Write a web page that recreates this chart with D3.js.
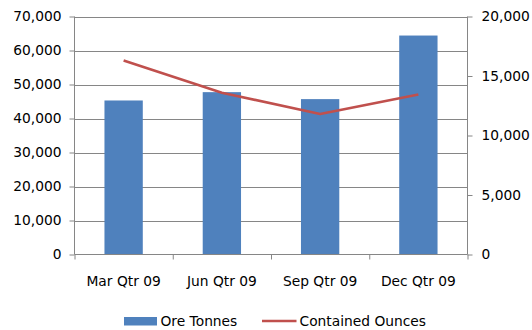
<!DOCTYPE html>
<html>
<head>
<meta charset="utf-8">
<script src="https://cdn.jsdelivr.net/npm/d3@7"></script>
<style>
  html, body { margin: 0; padding: 0; background: #fff; }
  svg { display: block; }
  text { font-family: "DejaVu Sans", sans-serif; font-size: 13.8px; fill: #000; }
</style>
</head>
<body>
<svg id="chart" width="532" height="330"></svg>
<script>
const categories = ["Mar Qtr 09", "Jun Qtr 09", "Sep Qtr 09", "Dec Qtr 09"];
const oreTonnes = [45300, 47750, 45700, 64400];
const containedOunces = [16300, 13600, 11800, 13450];
const leftTicks = [0, 10000, 20000, 30000, 40000, 50000, 60000, 70000];
const rightTicks = [0, 5000, 10000, 15000, 20000];
const seriesNames = ["Ore Tonnes", "Contained Ounces"];

const svg = d3.select("#chart");
const L = 74.5, R = 467.5, T = 16.5, B = 254.5;
const axisColor = "#868686";
const barColor = "#4F81BD";
const lineColor = "#C0504D";

const x = d3.scaleBand().domain(categories).range([L, R]).paddingInner(0.61).paddingOuter(0.305);
const yL = d3.scaleLinear().domain([0, 70000]).range([B, T]);
const yR = d3.scaleLinear().domain([0, 20000]).range([B, T]);
const fmt = d3.format(",");

// gridlines
svg.append("g").selectAll("line").data(leftTicks.filter(d => d > 0)).join("line")
  .attr("x1", L).attr("x2", R)
  .attr("y1", d => Math.round(yL(d)) + 0.5).attr("y2", d => Math.round(yL(d)) + 0.5)
  .attr("stroke", axisColor).attr("stroke-width", 1);

// bars
svg.append("g").selectAll("rect").data(oreTonnes).join("rect")
  .attr("x", (d, i) => x(categories[i]))
  .attr("width", x.bandwidth())
  .attr("y", d => yL(d))
  .attr("height", d => B - yL(d))
  .attr("fill", barColor);

// left axis
const gL = svg.append("g").attr("transform", `translate(${L},0)`)
  .call(d3.axisLeft(yL).tickValues(leftTicks).tickFormat(fmt).tickSize(5).tickPadding(8));
// right axis
const gR = svg.append("g").attr("transform", `translate(${R},0)`)
  .call(d3.axisRight(yR).tickValues(rightTicks).tickFormat(fmt).tickSize(5).tickPadding(9));
// bottom axis
const xEdge = d3.scaleLinear().domain([0, categories.length]).range([L, R]);
const gB = svg.append("g").attr("transform", `translate(0,${B})`)
  .call(d3.axisBottom(xEdge).tickValues(d3.range(categories.length + 1)).tickFormat("").tickSize(5));
svg.append("g").selectAll("text").data(categories).join("text")
  .attr("x", d => x(d) + x.bandwidth() / 2)
  .attr("y", B + 31)
  .attr("text-anchor", "middle")
  .text(d => d);

[gL, gR, gB].forEach(g => {
  g.select(".domain").attr("stroke", axisColor);
  g.selectAll(".tick line").attr("stroke", axisColor);
  g.selectAll("text").attr("font-family", "DejaVu Sans, sans-serif").attr("font-size", "13.8px").attr("fill", "#000");
});
gL.select(".domain").attr("d", `M0,${T}V${B}`);
gR.select(".domain").attr("d", `M0,${T}V${B}`);
gB.select(".domain").attr("d", `M${L},0H${R}`);

// line
const line = d3.line()
  .x((d, i) => x(categories[i]) + x.bandwidth() / 2)
  .y(d => yR(d));
svg.append("path").datum(containedOunces)
  .attr("d", line)
  .attr("fill", "none")
  .attr("stroke", lineColor)
  .attr("stroke-width", 2.6)
  .attr("stroke-linejoin", "round");

// legend
const lg = svg.append("g");
lg.append("rect").attr("x", 124).attr("y", 317).attr("width", 33).attr("height", 8.5).attr("fill", barColor);
lg.append("text").attr("x", 160.5).attr("y", 326).text(seriesNames[0]);
lg.append("line").attr("x1", 262).attr("x2", 296.5).attr("y1", 321).attr("y2", 321)
  .attr("stroke", lineColor).attr("stroke-width", 2.6);
lg.append("text").attr("x", 299.5).attr("y", 326).text(seriesNames[1]);
</script>
</body>
</html>
